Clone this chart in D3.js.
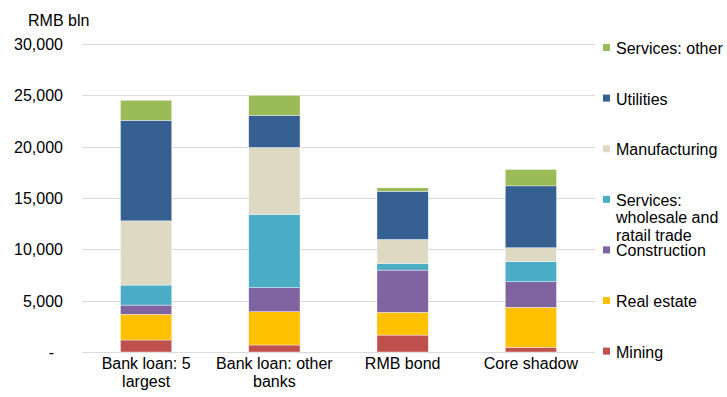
<!DOCTYPE html>
<html>
<head>
<meta charset="utf-8">
<script src="https://cdn.jsdelivr.net/npm/d3@7"></script>
<style>
  body { margin: 0; background: #fff; }
  text { font-family: "Liberation Sans", Arial, sans-serif; fill: #000; }
</style>
</head>
<body>
<div class="svg-container"></div>
<script>
// categories (two-line labels)
var categories = ["Bank loan: 5 largest", "Bank loan: other banks", "RMB bond", "Core shadow"];
var categoryLines = [["Bank loan: 5", "largest"], ["Bank loan: other", "banks"], ["RMB bond"], ["Core shadow"]];

// series, bottom to top
var seriesNames = ["Mining", "Real estate", "Construction", "Services: wholesale and ratail trade", "Manufacturing", "Utilities", "Services: other"];
var seriesColors = ["#C0504D", "#FFC000", "#8064A2", "#4BACC6", "#DDD9C3", "#366092", "#9BBB59"];

var mining        = [1170,  680, 1650,  460];
var realEstate    = [2500, 3240, 2210, 3890];
var construction  = [ 900, 2340, 4120, 2490];
var wholesale     = [1950, 7140,  650, 1950];
var manufacturing = [6250, 6520, 2330, 1360];
var utilities     = [9800, 3140, 4700, 6030];
var servicesOther = [1950, 1950,  330, 1600];

var yTicks = [0, 5000, 10000, 15000, 20000, 25000, 30000];

var seriesValues = [mining, realEstate, construction, wholesale, manufacturing, utilities, servicesOther];

var width = 727, height = 397;
var plotLeft = 82, plotRight = 595, plotTop = 44, plotBottom = 352;

var svg = d3.select(".svg-container").append("svg")
    .attr("width", width)
    .attr("height", height);

var rows = categories.map(function(c, i) {
    var r = { cat: c };
    seriesNames.forEach(function(s, j) { r[s] = seriesValues[j][i]; });
    return r;
});

var stacked = d3.stack().keys(seriesNames)(rows);

var x = d3.scaleBand().domain(categories).range([plotLeft, plotRight]).paddingInner(0.6).paddingOuter(0.3);
var y = d3.scaleLinear().domain([0, 30000]).range([plotBottom, plotTop]);

// gridlines
svg.append("g")
    .selectAll("line")
    .data(yTicks)
    .enter().append("line")
    .attr("x1", plotLeft)
    .attr("x2", plotRight)
    .attr("y1", function(d) { return Math.round(y(d)) + 0.5; })
    .attr("y2", function(d) { return Math.round(y(d)) + 0.5; })
    .style("stroke", "#D9D9D9")
    .style("stroke-width", 1);

// y axis labels
var fmt = d3.format(",");
svg.append("g")
    .selectAll("text")
    .data(yTicks)
    .enter().append("text")
    .attr("x", function(d) { return d === 0 ? 54 : 63; })
    .attr("y", function(d) { return y(d) + 6; })
    .attr("text-anchor", "end")
    .style("font-size", "16px")
    .text(function(d) { return d === 0 ? "-" : fmt(d); });

svg.append("text")
    .attr("x", 28)
    .attr("y", 26)
    .style("font-size", "16px")
    .text("RMB bln");

// bars
svg.append("g")
    .selectAll("g")
    .data(stacked)
    .enter().append("g")
    .attr("fill", function(d, i) { return seriesColors[i]; })
    .selectAll("rect")
    .data(function(d) { return d; })
    .enter().append("rect")
    .attr("x", function(d) { return x(d.data.cat); })
    .attr("width", x.bandwidth())
    .attr("y", function(d) { return y(d[1]); })
    .attr("height", function(d) { return y(d[0]) - y(d[1]); })
    .style("stroke", "#fff")
    .style("stroke-width", 0.4);

// category labels
var catG = svg.append("g")
    .selectAll("text")
    .data(categories)
    .enter().append("text")
    .attr("text-anchor", "middle")
    .style("font-size", "16px");
catG.selectAll("tspan")
    .data(function(d, i) { return categoryLines[i].map(function(t) { return { t: t, c: d }; }); })
    .enter().append("tspan")
    .attr("x", function(d) { return x(d.c) + x.bandwidth() / 2; })
    .attr("y", function(d, k) { return 369 + k * 18; })
    .text(function(d) { return d.t; });

// legend, top to bottom
var legendItems = seriesNames.map(function(n, i) { return { name: n, color: seriesColors[i] }; }).reverse();
var legendLines = {
    "Services: wholesale and ratail trade": ["Services:", "wholesale and", "ratail trade"]
};
var leg = svg.append("g")
    .selectAll("g")
    .data(legendItems)
    .enter().append("g")
    .attr("transform", function(d, i) { return "translate(603," + (48 + i * 50.6) + ")"; });

leg.append("rect")
    .attr("x", 0)
    .attr("y", -4)
    .attr("width", 7)
    .attr("height", 7)
    .attr("fill", function(d) { return d.color; });

leg.append("text")
    .style("font-size", "16px")
    .selectAll("tspan")
    .data(function(d) { return legendLines[d.name] || [d.name]; })
    .enter().append("tspan")
    .attr("x", 13)
    .attr("y", function(d, k) { return 6 + k * 17.5; })
    .text(function(d) { return d; });
</script>
</body>
</html>
